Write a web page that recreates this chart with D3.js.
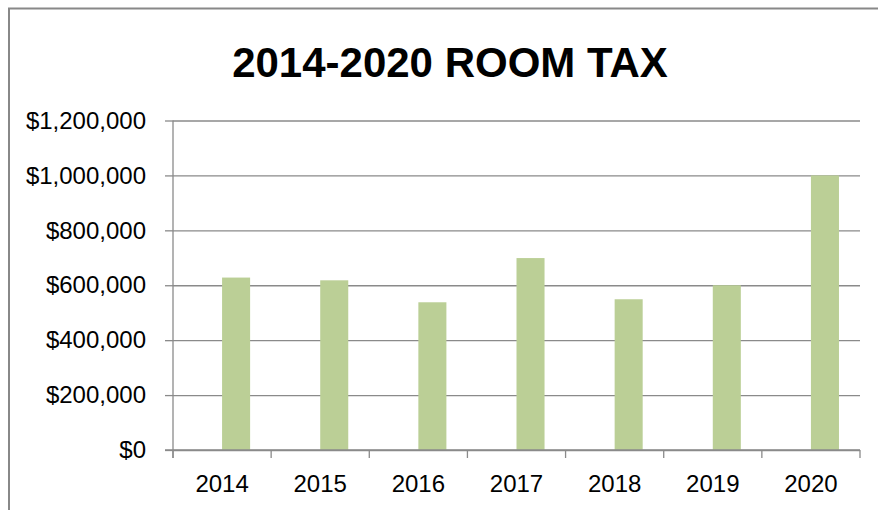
<!DOCTYPE html>
<html>
<head>
<meta charset="utf-8">
<script src="https://cdn.jsdelivr.net/npm/d3@7"></script>
<style>
  html, body { margin: 0; padding: 0; background: #fff; }
  svg { display: block; }
</style>
</head>
<body>
<svg id="chart" width="878" height="510"></svg>
<script>
// ---- data ----
const title = "2014-2020 ROOM TAX";
const years = ["2014", "2015", "2016", "2017", "2018", "2019", "2020"];
const roomTax = [628000, 618000, 538000, 699000, 549000, 600000, 1000000];
// The source is a clustered column chart with an empty first series,
// so each bar sits in the right half of its category slot.
const seriesNames = ["(empty)", "Room Tax"];
const yTicks = [0, 200000, 400000, 600000, 800000, 1000000, 1200000];

// ---- layout ----
const W = 878, H = 510;
const plot = { left: 173, right: 860, top: 120.5, bottom: 450 };
const gridColor = "#8a8a8a";
const font = "'Liberation Sans', Arial, sans-serif";
const labelSize = 24;

const svg = d3.select("#chart");

svg.append("rect").attr("width", W).attr("height", H).attr("fill", "#fff");

// chart border
svg.append("rect")
  .attr("x", 9).attr("y", 8.5)
  .attr("width", W + 20).attr("height", H + 20)
  .attr("fill", "none").attr("stroke", "#888").attr("stroke-width", 2);

const y = d3.scaleLinear().domain([0, 1200000]).range([plot.bottom, plot.top]);
const x0 = d3.scaleBand().domain(years).range([plot.left, plot.right]).padding(0);
const x1 = d3.scaleBand().domain(seriesNames).range([0, x0.bandwidth()])
  .paddingInner(0).paddingOuter(0.75);

// gridlines
const grid = svg.append("g").attr("transform", `translate(${plot.left},0)`)
  .call(d3.axisLeft(y).tickValues(yTicks).tickSize(-(plot.right - plot.left)).tickFormat(""));
grid.select(".domain").remove();
grid.selectAll(".tick line").attr("stroke", gridColor).attr("stroke-width", 1.3);

// bars
svg.append("g").selectAll("rect")
  .data(years.map((yr, i) => ({ year: yr, value: roomTax[i] })))
  .join("rect")
  .attr("x", d => x0(d.year) + x1("Room Tax"))
  .attr("width", x1.bandwidth())
  .attr("y", d => y(d.value))
  .attr("height", d => y(0) - y(d.value))
  .attr("fill", "#BBCF96");

// y axis with labels
const yAxis = svg.append("g").attr("transform", `translate(${plot.left},0)`)
  .call(d3.axisLeft(y).tickValues(yTicks).tickSize(8).tickPadding(19)
    .tickFormat(d3.format("$,.0f")));
yAxis.select(".domain").remove();
yAxis.selectAll(".tick line").attr("stroke", gridColor).attr("stroke-width", 1.3);
yAxis.selectAll("text").attr("font-family", font).attr("font-size", labelSize).attr("fill", "#000");

// y axis line
svg.append("line")
  .attr("x1", plot.left).attr("x2", plot.left)
  .attr("y1", plot.top).attr("y2", plot.bottom + 8)
  .attr("stroke", gridColor).attr("stroke-width", 1.3);

// x axis line
svg.append("line")
  .attr("x1", plot.left - 8).attr("x2", plot.right)
  .attr("y1", plot.bottom).attr("y2", plot.bottom)
  .attr("stroke", gridColor).attr("stroke-width", 1.3);

// x tick marks at category boundaries
const boundaries = years.map(yr => x0(yr)).concat([x0.range()[1]]);
svg.append("g").selectAll("line")
  .data(boundaries)
  .join("line")
  .attr("x1", d => d).attr("x2", d => d)
  .attr("y1", plot.bottom).attr("y2", plot.bottom + 8)
  .attr("stroke", gridColor).attr("stroke-width", 1.3);

// x labels
const xAxis = svg.append("g").attr("transform", `translate(0,${plot.bottom})`)
  .call(d3.axisBottom(x0).tickSize(0).tickPadding(25));
xAxis.select(".domain").remove();
xAxis.selectAll("text").attr("font-family", font).attr("font-size", labelSize).attr("fill", "#000");

// title
svg.append("text")
  .attr("x", 450).attr("y", 77)
  .attr("text-anchor", "middle")
  .attr("font-family", font)
  .attr("font-weight", "bold")
  .attr("font-size", 42)
  .attr("fill", "#000")
  .text(title);
</script>
</body>
</html>
